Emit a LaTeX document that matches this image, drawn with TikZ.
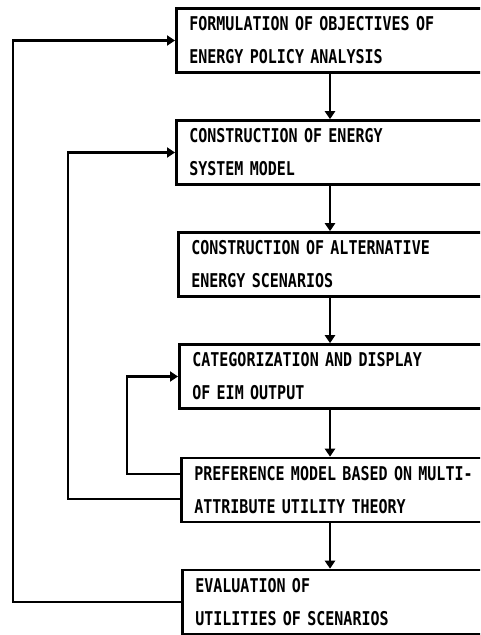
\documentclass[tikz,border=0pt]{standalone}
\usepackage{fontspec}
\newfontfamily\boxfont[FakeStretch=0.79]{DejaVu Sans Mono}
\usetikzlibrary{arrows.meta}
\tikzset{
  stagebox/.style={draw, line width=2.6pt, anchor=west, minimum height=64pt,
    text width=292pt, align=left, inner xsep=13pt, inner ysep=0pt,
    font=\boxfont\bfseries\fontsize{19}{33}\selectfont},
  arr/.style={line width=2.5pt, -{Triangle[length=8pt,width=10pt]}},
  fb/.style={line width=2.5pt, -{Triangle[length=8pt,width=10pt]}, rounded corners=0pt}
}
\begin{document}
\begin{tikzpicture}[x=1pt,y=-1pt]
\useasboundingbox (0,0) rectangle (480,635);
\clip (0,0) rectangle (480,635);
\node[stagebox] (b1) at (175,40.5) {FORMULATION OF OBJECTIVES OF\\ENERGY POLICY ANALYSIS};
\node[stagebox] (b2) at (175,152.5) {CONSTRUCTION OF ENERGY\\SYSTEM MODEL};
\node[stagebox] (b3) at (177,264.5) {CONSTRUCTION OF ALTERNATIVE\\ENERGY SCENARIOS};
\node[stagebox] (b4) at (178,376.5) {CATEGORIZATION AND DISPLAY\\OF EIM OUTPUT};
\node[stagebox] (b5) at (180,490) {PREFERENCE MODEL BASED ON MULTI-\\ATTRIBUTE UTILITY THEORY};
\node[stagebox] (b6) at (181,602) {EVALUATION OF\\UTILITIES OF SCENARIOS};
\coordinate (mx) at (330,0);
\coordinate (L1) at (13,0);
\coordinate (L2) at (68,0);
\coordinate (L3) at (127,0);
\draw[arr] (b1.south -| mx) -- (b2.north -| mx);
\draw[arr] (b2.south -| mx) -- (b3.north -| mx);
\draw[arr] (b3.south -| mx) -- (b4.north -| mx);
\draw[arr] (b4.south -| mx) -- (b5.north -| mx);
\draw[arr] (b5.south -| mx) -- (b6.north -| mx);
\draw[fb] (b6.west) -- (b6.west -| L1) |- (b1.west);
\draw[fb] ([yshift=-9pt]b5.west) -- ([yshift=-9pt]b5.west -| L2) |- (b2.west);
\draw[fb] ([yshift=16pt]b5.west) -- ([yshift=16pt]b5.west -| L3) |- (b4.west);
\end{tikzpicture}
\end{document}
